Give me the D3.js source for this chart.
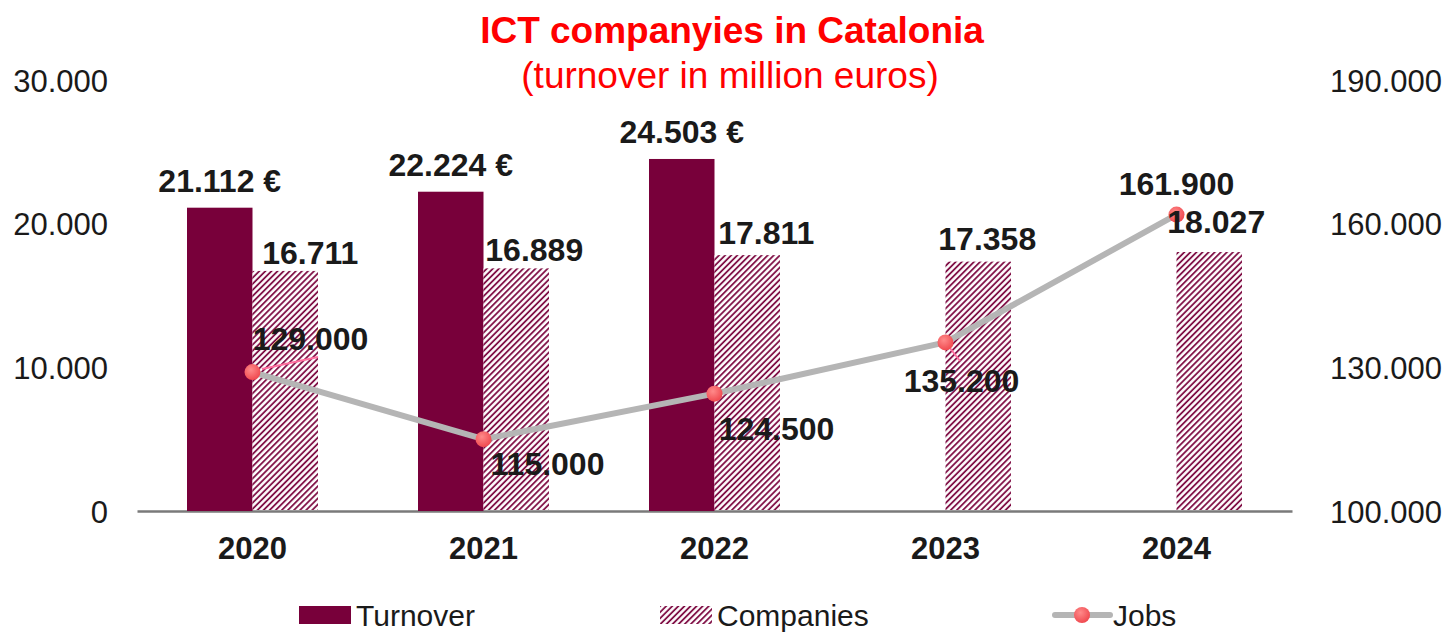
<!DOCTYPE html>
<html>
<head>
<meta charset="utf-8">
<script src="https://cdn.jsdelivr.net/npm/d3@7"></script>
<style>
    html, body { margin: 0; padding: 0; background: #fff; }
    svg { display: block; font-family: "Liberation Sans", Arial, sans-serif; }
</style>
</head>
<body>
<div id="chart"></div>
<script>
/* -----------------------------
   1. Data
------------------------------*/
const years = ['2020', '2021', '2022', '2023', '2024'];
const turnover = [21112, 22224, 24503, null, null];
const companies = [16711, 16889, 17811, 17358, 18027];
const jobs = [129000, 115000, 124500, 135200, 161900];

const leftTicks = [0, 10000, 20000, 30000];
const rightTicks = [100000, 130000, 160000, 190000];
const legendNames = ['Turnover', 'Companies', 'Jobs'];

// manual label placement (dx, dy from the mark), like the original chart
const companiesLabelOffset = [[25, -7], [18, -7], [19, -11], [9, -12], [7, -19]];
const jobsLabelOffset = [[58, -22], [64, 36], [62, 46], [16, 50], [0, -20]];

/* -----------------------------
   2. Setup
------------------------------*/
const W = 1450, H = 633;
const BAR = '#78003a';
const INK = '#1a1a1a';

const loc = d3.formatLocale({ decimal: ',', thousands: '.', grouping: [3], currency: ['', ' €'] });
const fmt = loc.format(',');

const svg = d3.select('#chart').append('svg')
    .attr('width', W)
    .attr('height', H);

const defs = svg.append('defs');

// diagonal hatch for Companies
const hatch = defs.append('pattern')
    .attr('id', 'hatch')
    .attr('patternUnits', 'userSpaceOnUse')
    .attr('width', 4.3)
    .attr('height', 4.3)
    .attr('patternTransform', 'rotate(45)');
hatch.append('rect').attr('width', 4.3).attr('height', 4.3).attr('fill', '#fff');
hatch.append('line')
    .attr('x1', 1).attr('y1', 0).attr('x2', 1).attr('y2', 4.3)
    .attr('stroke', BAR).attr('stroke-width', 1.7);

const grad = defs.append('radialGradient')
    .attr('id', 'dot')
    .attr('cx', '40%').attr('cy', '35%').attr('r', '65%');
grad.append('stop').attr('offset', '0%').attr('stop-color', '#ff8a8a');
grad.append('stop').attr('offset', '100%').attr('stop-color', '#f04a50');

/* -----------------------------
   3. Scales
------------------------------*/
const x = d3.scaleBand().domain(years).range([137, 1292]);
const yL = d3.scaleLinear().domain([0, 30000]).range([511, 80]);
const yR = d3.scaleLinear().domain([100000, 190000]).range([511, 80]);
const barW = 65.5;
const cx = d => x(d) + x.bandwidth() / 2;

/* -----------------------------
   4. Title
------------------------------*/
svg.append('text')
    .attr('x', 732).attr('y', 43)
    .attr('text-anchor', 'middle')
    .attr('font-size', 37).attr('font-weight', 'bold')
    .attr('fill', '#ff0000')
    .text('ICT companyies in Catalonia');

svg.append('text')
    .attr('x', 730).attr('y', 88)
    .attr('text-anchor', 'middle')
    .attr('font-size', 37)
    .attr('fill', '#ff0000')
    .text('(turnover in million euros)');

/* -----------------------------
   5. Axes
------------------------------*/
const axL = svg.append('g')
    .attr('transform', 'translate(108,0)')
    .call(d3.axisLeft(yL).tickValues(leftTicks).tickFormat(fmt).tickSize(0).tickPadding(0));

const axR = svg.append('g')
    .attr('transform', 'translate(1330,0)')
    .call(d3.axisRight(yR).tickValues(rightTicks).tickFormat(fmt).tickSize(0).tickPadding(0));

[axL, axR].forEach(ax => {
    ax.select('.domain').remove();
    ax.selectAll('text')
        .attr('font-size', 31)
        .attr('font-family', '"Liberation Sans", Arial, sans-serif')
        .attr('fill', INK)
        .attr('dy', '0.36em');
});

const axX = svg.append('g')
    .attr('transform', 'translate(0,511)')
    .call(d3.axisBottom(x).tickSize(0).tickPadding(26));
axX.select('.domain').attr('stroke', '#7a7a7a').attr('stroke-width', 2.5);
axX.selectAll('text')
    .attr('font-size', 31)
    .attr('font-weight', 'bold')
    .attr('font-family', '"Liberation Sans", Arial, sans-serif')
    .attr('fill', INK)
    .attr('dy', '0.71em');

/* -----------------------------
   6. Bars
------------------------------*/
const tData = years.map((y, i) => ({ year: y, v: turnover[i] })).filter(d => d.v != null);
const cData = years.map((y, i) => ({ year: y, v: companies[i], i }));

svg.append('g').selectAll('rect')
    .data(tData)
    .join('rect')
    .attr('x', d => cx(d.year) - barW)
    .attr('y', d => yL(d.v))
    .attr('width', barW)
    .attr('height', d => yL(0) - yL(d.v))
    .attr('fill', BAR);

svg.append('g').selectAll('rect')
    .data(cData)
    .join('rect')
    .attr('x', d => cx(d.year))
    .attr('y', d => yL(d.v))
    .attr('width', barW)
    .attr('height', d => yL(0) - yL(d.v) - 1)
    .attr('fill', 'url(#hatch)');

/* -----------------------------
   7. Jobs line
------------------------------*/
const jData = years.map((y, i) => ({ year: y, v: jobs[i], i }));

// leader lines (drawn under the markers)
const leaders = [[0, 262, 369, 318, 357], [3, 946, 343, 960, 361]];
svg.append('g').selectAll('line')
    .data(leaders)
    .join('line')
    .attr('x1', d => d[1]).attr('y1', d => d[2])
    .attr('x2', d => d[3]).attr('y2', d => d[4])
    .attr('stroke', '#ff6f9f').attr('stroke-width', 2);

svg.append('path')
    .datum(jData)
    .attr('fill', 'none')
    .attr('stroke', '#b5b5b5')
    .attr('stroke-width', 6)
    .attr('stroke-linejoin', 'round')
    .attr('d', d3.line().x(d => cx(d.year)).y(d => yR(d.v)));

svg.append('g').selectAll('circle')
    .data(jData)
    .join('circle')
    .attr('cx', d => cx(d.year))
    .attr('cy', d => yR(d.v))
    .attr('r', 8)
    .attr('fill', 'url(#dot)');

/* -----------------------------
   8. Data labels
------------------------------*/
const lbl = svg.append('g')
    .attr('font-size', 32)
    .attr('font-weight', 'bold')
    .attr('fill', INK)
    .attr('text-anchor', 'middle');

lbl.selectAll('.tl')
    .data(tData)
    .join('text')
    .attr('class', 'tl')
    .attr('x', d => cx(d.year) - barW / 2)
    .attr('y', d => yL(d.v) - 16)
    .text(d => loc.format('$,')(d.v));

lbl.selectAll('.cl')
    .data(cData)
    .join('text')
    .attr('class', 'cl')
    .attr('x', d => cx(d.year) + barW / 2 + companiesLabelOffset[d.i][0])
    .attr('y', d => yL(d.v) + companiesLabelOffset[d.i][1])
    .text(d => fmt(d.v));

lbl.selectAll('.jl')
    .data(jData)
    .join('text')
    .attr('class', 'jl')
    .attr('x', d => cx(d.year) + jobsLabelOffset[d.i][0])
    .attr('y', d => yR(d.v) + jobsLabelOffset[d.i][1])
    .text(d => fmt(d.v));

/* -----------------------------
   9. Legend
------------------------------*/
const legX = [299, 660, 1055];
const legY = 615;
const leg = svg.append('g');

leg.append('rect')
    .attr('x', legX[0]).attr('y', legY - 9)
    .attr('width', 52).attr('height', 18)
    .attr('fill', BAR);

leg.append('rect')
    .attr('x', legX[1]).attr('y', legY - 9)
    .attr('width', 52).attr('height', 18)
    .attr('fill', 'url(#hatch)');

leg.append('line')
    .attr('x1', legX[2]).attr('x2', legX[2] + 55)
    .attr('y1', legY).attr('y2', legY)
    .attr('stroke', '#b5b5b5').attr('stroke-width', 6)
    .attr('stroke-linecap', 'round');
leg.append('circle')
    .attr('cx', legX[2] + 27).attr('cy', legY)
    .attr('r', 8).attr('fill', 'url(#dot)');

leg.selectAll('text')
    .data(legendNames)
    .join('text')
    .attr('x', (d, i) => legX[i] + (i === 2 ? 58 : 57))
    .attr('y', legY + 11)
    .attr('font-size', 30)
    .attr('fill', INK)
    .text(d => d);
</script>
</body>
</html>
